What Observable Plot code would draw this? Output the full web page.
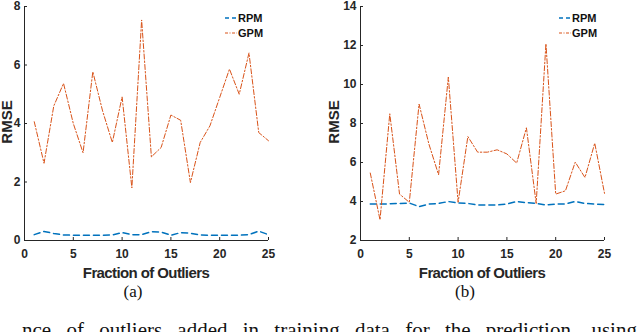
<!DOCTYPE html>
<html>
<head>
<meta charset="utf-8">
<script src="https://cdn.jsdelivr.net/npm/d3@7"></script>
<script src="https://cdn.jsdelivr.net/npm/@observablehq/plot@0.6"></script>
<style>
  html, body { margin: 0; padding: 0; background: #fff; }
  #root { position: relative; width: 640px; height: 332px; overflow: hidden; background: #fff; }
  .panel { position: absolute; top: 0; }
  #overlay { position: absolute; left: 0; top: 0; pointer-events: none; }
</style>
</head>
<body>
<div id="root">
  <div class="panel" id="pa" style="left:0px"></div>
  <div class="panel" id="pb" style="left:320px"></div>
  <svg id="overlay" width="640" height="332"></svg>
</div>
<script>
// ---- data ----
const fractions = [1,2,3,4,5,6,7,8,9,10,11,12,13,14,15,16,17,18,19,20,21,22,23,24,25];
const rpmA = [0.2,0.31,0.24,0.19,0.18,0.18,0.18,0.18,0.19,0.27,0.2,0.2,0.3,0.29,0.18,0.27,0.25,0.19,0.18,0.18,0.18,0.18,0.2,0.32,0.2];
const gpmA = [4.06,2.64,4.6,5.37,4.0,3.0,5.77,4.43,3.35,4.91,1.8,7.54,2.86,3.18,4.29,4.11,1.98,3.35,3.92,4.89,5.86,5.0,6.41,3.69,3.41];
const rpmB = [3.87,3.87,3.88,3.9,3.92,3.74,3.87,3.9,4.0,3.92,3.9,3.82,3.82,3.82,3.87,4.0,3.94,3.9,3.82,3.87,3.87,4.0,3.9,3.87,3.84];
const gpmB = [5.46,3.06,8.5,4.38,3.96,9.0,6.96,5.37,10.38,3.96,7.33,6.53,6.53,6.65,6.44,5.97,7.78,3.9,12.09,4.38,4.55,6.02,5.23,6.99,4.42];
const xTicks = [0,5,10,15,20,25];
const yTicksA = [0,2,4,6,8];
const yTicksB = [2,4,6,8,10,12,14];
const seriesNames = ["RPM","GPM"];
const xLabel = "Fraction of Outliers";
const yLabel = "RMSE";
const panelLabels = ["(a)","(b)"];
const caption = "nce of outliers added in training data for the prediction, using RPM and GPM.";

const BLUE = "#0072BD", ORANGE = "#D95319", INK = "#262626";
const W = 320, H = 280, MT = 6, MB = 40;

function panel(rpm, gpm, yDomain, yTicks, ml, mr) {
  const data = fractions.map((f, i) => ({f, rpm: rpm[i], gpm: gpm[i]}));
  const pw = W - ml - mr, ph = H - MT - MB;
  return Plot.plot({
    width: W, height: H, marginTop: MT, marginBottom: MB, marginLeft: ml, marginRight: mr,
    style: {fontFamily: "'Liberation Sans', Arial, sans-serif", fontSize: "12px", fontWeight: "bold", color: INK, background: "transparent", overflow: "visible"},
    x: {domain: [0, 25]},
    y: {domain: yDomain},
    marks: [
      Plot.axisX({ticks: xTicks, tickSize: 0, tickPadding: 9, label: null, fill: INK}),
      Plot.axisY({ticks: yTicks, tickSize: 0, tickPadding: 4, label: null, fill: INK}),
      Plot.tickX(xTicks, {x: d => d, stroke: INK, insetTop: ph - 3}),
      Plot.tickY(yTicks, {y: d => d, stroke: INK, insetRight: pw - 3}),
      Plot.line(data, {x: "f", y: "rpm", stroke: BLUE, strokeWidth: 1.5, strokeDasharray: "6,4"}),
      Plot.line(data, {x: "f", y: "gpm", stroke: ORANGE, strokeWidth: 1, strokeDasharray: "5,2,1.5,2"}),
      Plot.ruleX([0], {stroke: INK}),
      Plot.ruleY([yDomain[0]], {stroke: INK})
    ]
  });
}

document.getElementById("pa").appendChild(panel(rpmA, gpmA, [0, 8], yTicksA, 24, 52));
document.getElementById("pb").appendChild(panel(rpmB, gpmB, [2, 14], yTicksB, 40, 36));

// ---- overlay text: axis labels, legends, panel labels, caption ----
const ov = d3.select("#overlay");
const sans = "'Liberation Sans', Arial, sans-serif";
const serif = "'Liberation Serif', 'Times New Roman', serif";
const panelsInfo = [
  {plotCx: 146, rmseX: 7, subX: 133, legX: 225},
  {plotCx: 482, rmseX: 334, subX: 465, legX: 559}
];
panelsInfo.forEach((p, k) => {
  ov.append("text").attr("x", p.plotCx).attr("y", 278).attr("text-anchor", "middle")
    .attr("font-family", sans).attr("font-weight", "bold").attr("font-size", 15)
    .attr("letter-spacing", "-0.6px").attr("fill", INK).text(xLabel);
  ov.append("text").attr("transform", `translate(${p.rmseX + 5},122) rotate(-90)`)
    .attr("text-anchor", "middle").attr("font-family", sans).attr("font-weight", "bold")
    .attr("font-size", 15).attr("fill", INK).text(yLabel);
  ov.append("text").attr("x", p.subX).attr("y", 297).attr("text-anchor", "middle")
    .attr("font-family", serif).attr("font-size", 17).attr("fill", "#111").text(panelLabels[k]);
  seriesNames.forEach((name, j) => {
    const y = 18 + j * 15;
    ov.append("line").attr("x1", p.legX).attr("x2", p.legX + 12).attr("y1", y).attr("y2", y)
      .attr("stroke", j === 0 ? BLUE : ORANGE).attr("stroke-width", j === 0 ? 1.5 : 1)
      .attr("stroke-dasharray", j === 0 ? "4,3" : "3,1.5,1,1.5");
    ov.append("text").attr("x", p.legX + 13).attr("y", y + 4).attr("font-family", sans)
      .attr("font-weight", "bold").attr("font-size", 11).attr("fill", "#111").text(name);
  });
});
ov.append("text").attr("x", 22).attr("y", 337).attr("font-family", serif)
  .attr("font-size", 21).attr("fill", "#111").attr("word-spacing", "10px").text(caption);
</script>
</body>
</html>
